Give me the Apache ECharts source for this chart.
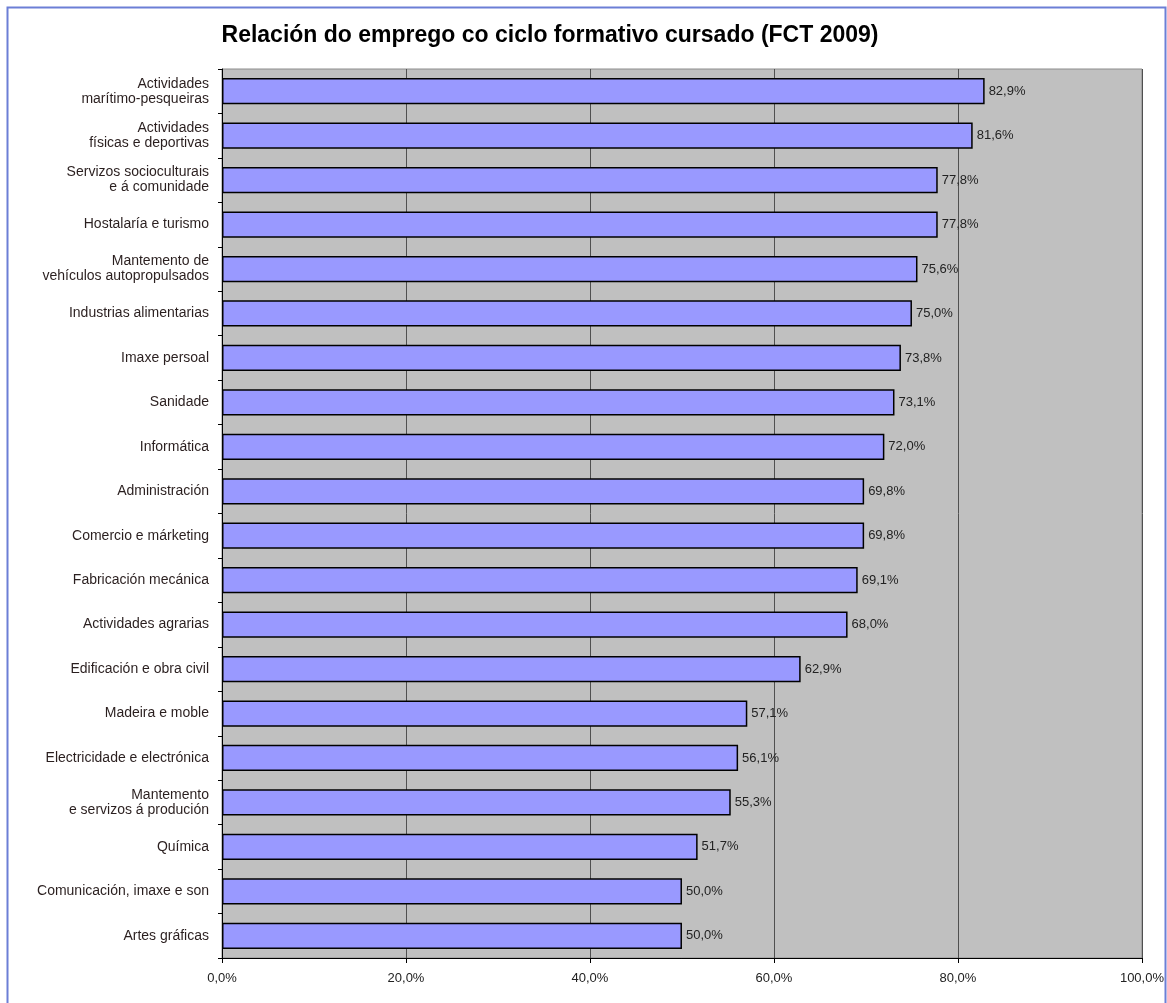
<!DOCTYPE html>
<html><head><meta charset="utf-8">
<script src="https://cdn.jsdelivr.net/npm/echarts@6/dist/echarts.min.js"></script>
<style>html,body{margin:0;padding:0;background:#fff}#c{width:1167px;height:1003px}</style>
</head><body><div id="c"></div>
<script>
const categories = [
  "Actividades\nmarítimo-pesqueiras",
  "Actividades\nfísicas e deportivas",
  "Servizos socioculturais\ne á comunidade",
  "Hostalaría e turismo",
  "Mantemento de\nvehículos autopropulsados",
  "Industrias alimentarias",
  "Imaxe persoal",
  "Sanidade",
  "Informática",
  "Administración",
  "Comercio e márketing",
  "Fabricación mecánica",
  "Actividades agrarias",
  "Edificación e obra civil",
  "Madeira e moble",
  "Electricidade e electrónica",
  "Mantemento\ne servizos á produción",
  "Química",
  "Comunicación, imaxe e son",
  "Artes gráficas"
];
const values = [82.9, 81.6, 77.8, 77.8, 75.6, 75.0, 73.8, 73.1, 72.0, 69.8, 69.8, 69.1, 68.0, 62.9, 57.1, 56.1, 55.3, 51.7, 50.0, 50.0];
const xTicks = [0, 20, 40, 60, 80, 100];
const title = "Relación do emprego co ciclo formativo cursado (FCT 2009)";

const fmt = v => v.toFixed(1).replace('.', ',') + '%';
const chart = echarts.init(document.getElementById('c'));
chart.setOption({
  animation: false,
  backgroundColor: '#fff',
  textStyle: { fontFamily: 'Liberation Sans, Arial, sans-serif' },
  title: {
    text: title, left: 545, top: 19, textAlign: 'center',
    textStyle: { fontSize: 23, fontWeight: 'bold', color: '#000', fontFamily: 'Liberation Sans, Arial, sans-serif' }
  },
  graphic: [{
    type: 'rect', shape: { x: 7.5, y: 7.5, width: 1158, height: 1010 },
    style: { fill: 'none', stroke: '#6c7fd6', lineWidth: 2 }, silent: true
  }],
  grid: { left: 222, right: 24, top: 69, bottom: 45, show: true, backgroundColor: '#c0c0c0', borderColor: '#8c8c8c', borderWidth: 1 },
  xAxis: {
    type: 'value', min: xTicks[0], max: xTicks[xTicks.length - 1], interval: 20,
    axisLine: { show: true, lineStyle: { color: '#000', width: 1 } },
    axisTick: { show: true, length: 5, lineStyle: { color: '#000' } },
    axisLabel: { formatter: v => fmt(v), fontSize: 13, color: '#222', margin: 14 },
    splitLine: { show: true, lineStyle: { color: '#505050', width: 1 } }
  },
  yAxis: {
    type: 'category', data: categories, inverse: true,
    axisLine: { show: true, lineStyle: { color: '#000', width: 1 } },
    axisTick: { show: true, length: 4, lineStyle: { color: '#000' } },
    axisLabel: { fontSize: 14, color: '#2a1f1f', margin: 13, lineHeight: 15, align: 'right' },
    splitLine: { show: false }
  },
  series: [{
    type: 'bar', data: values, barCategoryGap: '41%',
    itemStyle: { color: '#9999ff', borderColor: '#000', borderWidth: 1.5 },
    label: { show: true, position: 'right', distance: 4, formatter: p => fmt(p.value), fontSize: 13, color: '#222' }
  }]
});
</script></body></html>
